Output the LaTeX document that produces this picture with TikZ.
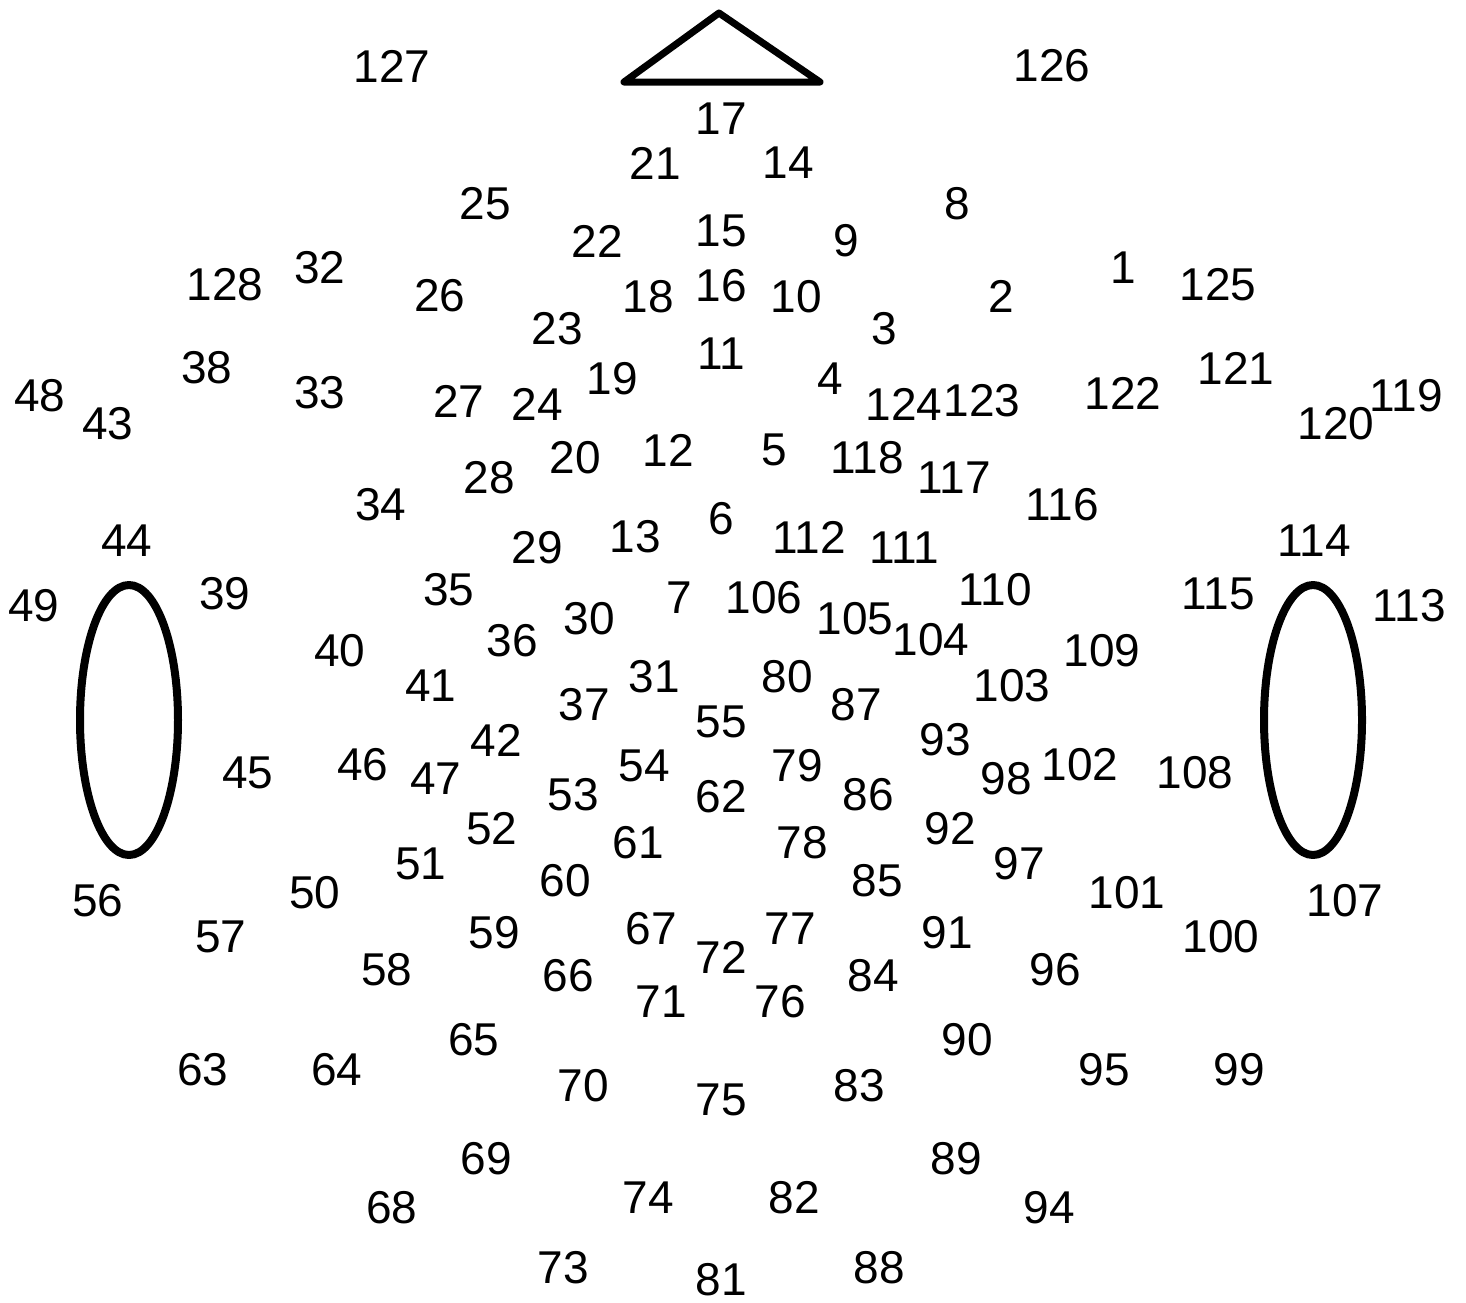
\documentclass[tikz,border=0pt]{standalone}
\usepackage{fontspec}
\setmainfont{Liberation Sans}
\begin{document}
\begin{tikzpicture}[x=1pt,y=-1pt,
  lbl/.style={inner sep=0pt,font=\fontsize{46}{46}\selectfont},
  outl/.style={line width=7pt,line join=round}]
\useasboundingbox[fill=white] (0,0) rectangle (1466,1302);
\foreach \n/\x/\y in {
127/392/66,126/1052/66,17/721/119,21/655/163,14/788/163,25/485/204,8/957/204,
22/597/241,15/721/231,9/846/241,128/225/285,32/320/268,26/440/296,18/648/297,
16/721/286,10/796/297,2/1001/296,1/1123/268,125/1218/285,23/557/329,3/884/329,
11/721/354,38/207/368,19/612/379,4/830/379,121/1236/368,48/40/396,43/108/424,
33/320/393,27/459/401,24/537/404,124/904/404,123/982/401,122/1123/393,
119/1406/396,120/1336/424,12/668/450,5/774/450,20/575/458,118/867/458,
28/489/478,117/954/478,34/381/505,116/1062/505,6/721/519,13/635/537,
112/809/537,29/537/548,111/904/548,44/127/541,114/1314/541,49/34/606,
39/225/594,35/449/590,7/679/598,106/764/598,110/995/590,115/1218/594,
113/1409/606,30/589/619,105/855/619,104/931/640,36/512/641,40/340/651,
109/1102/651,31/654/677,80/787/677,41/431/686,103/1012/686,37/584/705,
87/856/705,55/721/722,42/496/740,93/945/740,45/248/773,46/363/765,54/644/766,
79/797/766,102/1080/765,108/1195/773,47/436/779,98/1006/779,53/573/795,
62/721/797,86/868/795,52/492/829,92/950/829,61/638/843,78/802/843,51/421/864,
97/1019/864,50/315/893,60/565/881,85/877/881,101/1127/893,56/98/901,
107/1345/901,57/221/937,59/494/933,67/651/929,77/790/929,91/947/933,
100/1221/937,72/721/957,58/387/970,66/568/976,84/873/976,96/1055/970,
71/661/1002,76/780/1002,65/474/1040,90/967/1040,63/203/1070,64/337/1070,
95/1104/1070,99/1239/1070,70/583/1086,83/859/1086,75/721/1100,69/486/1159,
89/956/1159,74/648/1198,82/794/1198,68/392/1208,94/1049/1208,73/563/1268,
88/879/1268,81/721/1280}
  \node[lbl] (n\n) at (\x,\y) {\n};
% nose
\draw[outl] (624,82) -- (719,13) -- (820,82) -- cycle;
% ears
\draw[outl,line width=8pt] (129,720) ellipse (49 and 135);
\draw[outl,line width=8pt] (1313,720) ellipse (49 and 135);
\end{tikzpicture}
\end{document}
